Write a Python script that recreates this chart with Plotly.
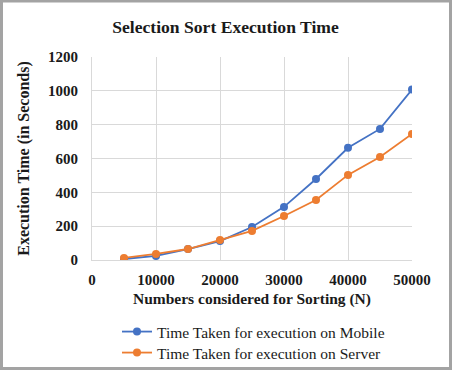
import plotly.graph_objects as go

n_values = [5000, 10000, 15000, 20000, 25000, 30000, 35000, 40000, 45000, 50000]
mobile_times = [6, 24, 65, 112, 195, 314, 479, 663, 775, 1008]
server_times = [12, 36, 65, 118, 172, 260, 355, 503, 609, 745]

x_ticks = [0, 10000, 20000, 30000, 40000, 50000]
y_ticks = [0, 200, 400, 600, 800, 1000, 1200]

serif = "Liberation Serif, Times New Roman, serif"
txt = "#1a1a1a"

fig = go.Figure()
fig.add_trace(go.Scatter(x=n_values, y=mobile_times, mode="lines+markers",
                         name="Time Taken for execution on Mobile",
                         line=dict(color="#4472C4", width=1.8),
                         marker=dict(color="#4472C4", size=8), legend="legend"))
fig.add_trace(go.Scatter(x=n_values, y=server_times, mode="lines+markers",
                         name="Time Taken for execution on Server",
                         line=dict(color="#ED7D31", width=1.8),
                         marker=dict(color="#ED7D31", size=8), legend="legend2"))

L, R, T, B = 92, 40, 57, 110
W, H = 452, 370
pw, ph = W - L - R, H - T - B

def py(px):
    return (T + ph - px) / ph

leg_common = dict(orientation="v", x=(117 - L) / pw, xanchor="left", yanchor="middle",
                  font=dict(size=15.5, family=serif, color=txt),
                  bgcolor="rgba(0,0,0,0)", itemwidth=30)

fig.update_layout(
    width=W, height=H,
    margin=dict(l=L, r=R, t=T, b=B, autoexpand=False),
    paper_bgcolor="white", plot_bgcolor="white",
    font=dict(family=serif, color=txt),
    title=dict(text="<b>Selection Sort Execution Time</b>", x=(225.5) / W, xanchor="center",
               y=1 - 27 / H, yanchor="middle", font=dict(size=17.6, family=serif, color=txt)),
    xaxis=dict(range=[0, 50000], tickvals=x_ticks,
               ticktext=["<b>%d</b>" % v for v in x_ticks],
               showgrid=True, gridcolor="#d9d9d9", gridwidth=1,
               showline=True, linecolor="#d9d9d9", zeroline=False,
               tickfont=dict(size=15, family=serif, color=txt), ticks="",
               ticklabelstandoff=6,
               title=dict(text="<b>Numbers considered for Sorting (N)</b>",
                          font=dict(size=15.5, family=serif, color=txt), standoff=6)),
    yaxis=dict(range=[0, 1200], tickvals=y_ticks,
               ticktext=["<b>%d</b>" % v for v in y_ticks],
               showgrid=True, gridcolor="#d9d9d9", gridwidth=1,
               showline=True, linecolor="#d9d9d9", zeroline=False,
               tickfont=dict(size=15, family=serif, color=txt), ticks="",
               ticklabelstandoff=10,
               title=dict(text="<b>Execution Time (in Seconds)</b>",
                          font=dict(size=16, family=serif, color=txt), standoff=14)),
    legend=dict(y=py(332), **leg_common),
    legend2=dict(y=py(353), **leg_common),
    showlegend=True,
)

# outer gray frame
fig.add_shape(type="rect", xref="paper", yref="paper",
              x0=(1.5 - L) / pw, x1=(W - 1.5 - L) / pw,
              y0=py(H - 1.5), y1=py(1.0),
              line=dict(color="#a3a3a3", width=3), fillcolor="rgba(0,0,0,0)", layer="above")

fig.write_html("out.html", config={"displayModeBar": False},
               post_script="document.body.style.margin='0';document.body.style.padding='0';"
                           "document.documentElement.style.overflow='hidden';")
